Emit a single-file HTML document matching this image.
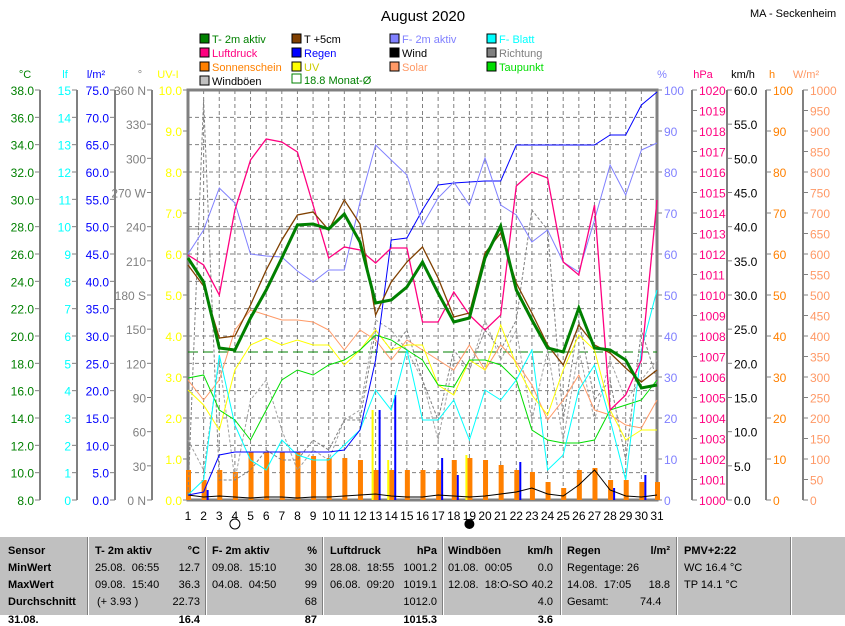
<!DOCTYPE html>
<html><head><meta charset="utf-8"><style>
body{margin:0;background:#fff;width:845px;height:615px;overflow:hidden;font-family:"Liberation Sans",sans-serif;}
svg text{font-family:"Liberation Sans",sans-serif;}
#tbl{position:absolute;left:0;top:537px;width:845px;height:78px;background:#c0c0c0;font-size:11px;}
#tbl div{position:absolute;white-space:nowrap;}
.sep{position:absolute;top:0;width:1px;height:78px;background:#fff;border-left:1px solid #808080;}
</style></head><body>
<svg id="s" width="845" height="537" style="position:absolute;left:0;top:0"></svg>
<div id="tbl"></div>
<script>
const S=document.getElementById('s');let h='';
const X0=188,X1=657,Y0=90,Y1=500;
const xd=d=>X0+(d-1)*(X1-X0)/30;
function t(x,y,s,c,a,sz){h+=`<text x="${x}" y="${y}" fill="${c}" font-size="${sz||12}" text-anchor="${a||'start'}">${s}</text>`;}
function l(x1,y1,x2,y2,c,w,da){h+=`<line x1="${x1}" y1="${y1}" x2="${x2}" y2="${y2}" stroke="${c}" stroke-width="${w||1}" ${da?`stroke-dasharray="${da}"`:''}/>`;}
t(423,21,'August 2020','#000','middle',15);
t(750,17,'MA - Seckenheim','#000','start',11);
const lg=[[200,'T- 2m aktiv','#008000'],[292,'T +5cm','#804000'],[390,'F- 2m aktiv','#8080ff'],[487,'F- Blatt','#00ffff'],
[200,'Luftdruck','#ff0080'],[292,'Regen','#0000ff'],[390,'Wind','#000'],[487,'Richtung','#808080'],
[200,'Sonnenschein','#ff8000'],[292,'UV','#ffff00'],[390,'Solar','#ff9966'],[487,'Taupunkt','#00dd00'],
[200,'Windböen','#c0c0c0']];
lg.forEach((g,i)=>{const y=38+Math.floor(i/4)*14;h+=`<rect x="${g[0]}" y="${y-4}" width="9" height="9" fill="${g[2]}" stroke="#000"/>`;t(g[0]+12,y+5,g[1],(i==1||i==12)?'#000':g[2]=='#ffff00'?'#cccc00':g[2],'start',11);});
h+=`<rect x="292" y="74" width="9" height="9" fill="#fff" stroke="#008000"/>`;t(304,84,'18.8 Monat-Ø','#008000','start',11);
[[25,'°C','#008000'],[65,'lf','#00ffff'],[96,'l/m²','#0000ff'],[140,'°','#808080'],[168,'UV-I','#ffff00'],[662,'%','#8080ff'],[703,'hPa','#ff0080'],[743,'km/h','#000'],[772,'h','#ff8000'],[806,'W/m²','#ff9966']].forEach(u=>t(u[0],78,u[1],u[2],'middle',11));
function ax(lx,vals,col,side,fmt){l(lx,Y0,lx,Y1,'#808080',2);const n=vals.length-1;vals.forEach((v,i)=>{const y=Y0+i*(Y1-Y0)/n;l(side<0?lx-5:lx,y,side<0?lx:lx+5,y,'#808080');t(side<0?lx-6:lx+7,y+5,v,col,side<0?'end':'start',12);});}
const rg=(a,b,s,f)=>{let r=[];for(let v=a;v>=b-1e-9;v-=s)r.push(f?v.toFixed(f):String(v));return r;};
ax(40,rg(38,8,2,1),'#008000',-1);
ax(77,rg(15,0,1),'#00ffff',-1);
ax(115,rg(75,0,5,1),'#0000ff',-1);
ax(152,['360 N','330','300','270 W','240','210','180 S','150','120','90','60','30','0 N'],'#808080',-1);
ax(188,rg(10,0,1,1),'#ffff00',-1);
ax(657,rg(100,0,10),'#8080ff',1);
ax(692,rg(1020,1000,1),'#ff0080',1);
ax(727,rg(60,0,5,1),'#000',1);
ax(766,rg(100,0,10),'#ff8000',1);
ax(803,rg(1000,0,50),'#ff9966',1);
for(let i=1;i<15;i++){const y=Y0+i*410/15;l(X0,y,X1,y,'#808080',1,'4,3');}
for(let d=2;d<31;d++)l(xd(d),Y0,xd(d),Y1,'#808080',1,'4,3');
h+=`<rect x="${X0}" y="${Y0}" width="${X1-X0}" height="${Y1-Y0}" fill="none" stroke="#808080" stroke-width="3"/>`;
for(let d=1;d<=31;d++)t(xd(d),520,d,'#000','middle',12);
h+=`<circle cx="${xd(4)}" cy="524" r="5" fill="#fff" stroke="#000"/><circle cx="${xd(19)}" cy="524" r="5" fill="#000"/>`;
const sun=[470,480,470,472,452,452,452,452,456,458,458,460,470,470,470,470,470,460,458,460,465,470,472,482,488,470,468,480,480,482,482];
sun.forEach((y,i)=>{h+=`<rect x="${xd(i+1)-2}" y="${y}" width="5" height="${Y1-y}" fill="#ff8000"/>`;});
[[13,410],[14,395],[17,458],[22,462],[18,475],[2,490],[28,488],[30,475]].forEach(r=>{h+=`<rect x="${xd(r[0])+3}" y="${r[1]}" width="2" height="${Y1-r[1]}" fill="#0000ff"/>`;});
[[13,410],[14,460],[19,455]].forEach(r=>{h+=`<rect x="${xd(r[0])-4}" y="${r[1]}" width="2" height="${Y1-r[1]}" fill="#ffff00"/>`;});
function pl(a,c,w,da){h+=`<polyline fill="none" stroke="${c}" stroke-width="${w||1}" ${da?`stroke-dasharray="${da}"`:''} points="${a.map((y,i)=>xd(i+1).toFixed(1)+','+y).join(' ')}"/>`;}
l(X0,229,X1,229,'#808080',1);
l(X0,352,X1,352,'#008000',1,'10,5');
pl([440,470,360,480,400,380,430,470,450,460,420,410,320,330,350,380,440,360,370,320,360,330,420,350,440,350,420,360,400,380,360],'#a0a0a0',1,'3,2');
pl([495,100,480,480,470,450,460,460,440,450,420,420,330,350,330,380,420,350,370,330,350,320,210,230,420,320,400,380,460,330,380],'#808080',1,'3,2');
pl([380,400,380,330,310,315,320,320,322,330,350,330,340,360,340,350,360,370,345,370,345,362,385,420,400,375,410,415,425,428,400],'#ff9966');
pl([390,405,430,370,345,338,345,340,345,345,365,350,330,350,345,345,385,395,360,370,325,365,395,415,370,335,350,410,440,430,430],'#ffff00');
pl([378,375,410,420,440,410,380,370,375,365,360,350,335,340,350,360,385,387,360,360,365,380,430,440,443,443,440,410,405,400,380],'#00dd00');
pl([495,480,355,425,460,470,440,455,460,460,445,430,390,410,350,420,420,400,440,390,400,380,350,470,455,390,365,420,480,350,290],'#00ffff');
pl([495,497,496,497,498,497,497,498,497,497,496,495,494,496,497,497,495,496,497,496,494,492,488,494,496,485,470,490,496,497,495],'#000');
pl([495,492,455,452,452,452,452,452,452,452,450,430,360,240,238,210,185,183,182,181,181,145,145,145,145,145,145,135,135,105,92],'#0000ff');
pl([254,230,188,203,254,256,257,271,282,270,270,202,145,160,175,225,198,182,205,158,205,215,242,230,262,272,220,165,195,150,143],'#8080ff');
pl([255,265,295,210,160,139,142,152,205,258,247,250,263,248,248,322,322,292,315,330,315,186,172,178,262,275,205,410,395,360,200],'#ff0080',1.3);
pl([265,286,338,336,305,270,240,215,212,230,200,224,315,282,262,247,278,317,313,253,233,283,313,345,365,325,345,353,368,382,370],'#804000',1.3);
pl([258,282,348,350,318,290,258,225,224,229,214,242,303,300,287,262,293,322,318,258,226,290,320,348,352,308,348,350,360,388,385],'#008000',3);
S.innerHTML=h;
const T=document.getElementById('tbl');let g='';
[87,205,322,442,560,676,790].forEach(x=>g+=`<span class="sep" style="left:${x}px"></span>`);
g+=`<div style="left:0;top:-1px;width:845px;height:1px;background:#fff"></div>`;
const c=(x,y,s,b,r)=>g+=`<div style="${r?'right:'+(845-x)+'px':'left:'+x+'px'};top:${y}px;${b?'font-weight:bold;':''}">${s}</div>`;
const R=[8,25,42,59,77];
['Sensor','MinWert','MaxWert','Durchschnitt','31.08.'].forEach((s,i)=>c(8,R[i],s,true));
c(95,R[0],'T- 2m aktiv',true);c(200,R[0],'°C',true,1);
c(95,R[1],'25.08.&nbsp; 06:55');c(200,R[1],'12.7',0,1);
c(95,R[2],'09.08.&nbsp; 15:40');c(200,R[2],'36.3',0,1);
c(97,R[3],'(+ 3.93 )');c(200,R[3],'22.73',0,1);c(200,R[4],'16.4',true,1);
c(212,R[0],'F- 2m aktiv',true);c(317,R[0],'%',true,1);
c(212,R[1],'09.08.&nbsp; 15:10');c(317,R[1],'30',0,1);
c(212,R[2],'04.08.&nbsp; 04:50');c(317,R[2],'99',0,1);c(317,R[3],'68',0,1);c(317,R[4],'87',true,1);
c(330,R[0],'Luftdruck',true);c(437,R[0],'hPa',true,1);
c(330,R[1],'28.08.&nbsp; 18:55');c(437,R[1],'1001.2',0,1);
c(330,R[2],'06.08.&nbsp; 09:20');c(437,R[2],'1019.1',0,1);c(437,R[3],'1012.0',0,1);c(437,R[4],'1015.3',true,1);
c(448,R[0],'Windböen',true);c(553,R[0],'km/h',true,1);
c(448,R[1],'01.08.&nbsp; 00:05');c(553,R[1],'0.0',0,1);
c(448,R[2],'12.08.&nbsp; 18:O-SO');c(553,R[2],'40.2',0,1);c(553,R[3],'4.0',0,1);c(553,R[4],'3.6',true,1);
c(567,R[0],'Regen',true);c(670,R[0],'l/m²',true,1);
c(567,R[1],'Regentage: 26');c(567,R[2],'14.08.&nbsp; 17:05');c(670,R[2],'18.8',0,1);
c(567,R[3],'Gesamt:');c(640,R[3],'74.4');
c(684,R[0],'PMV+2:22',true);c(684,R[1],'WC 16.4 °C');c(684,R[2],'TP 14.1 °C');
T.innerHTML=g;
</script>
</body></html>
